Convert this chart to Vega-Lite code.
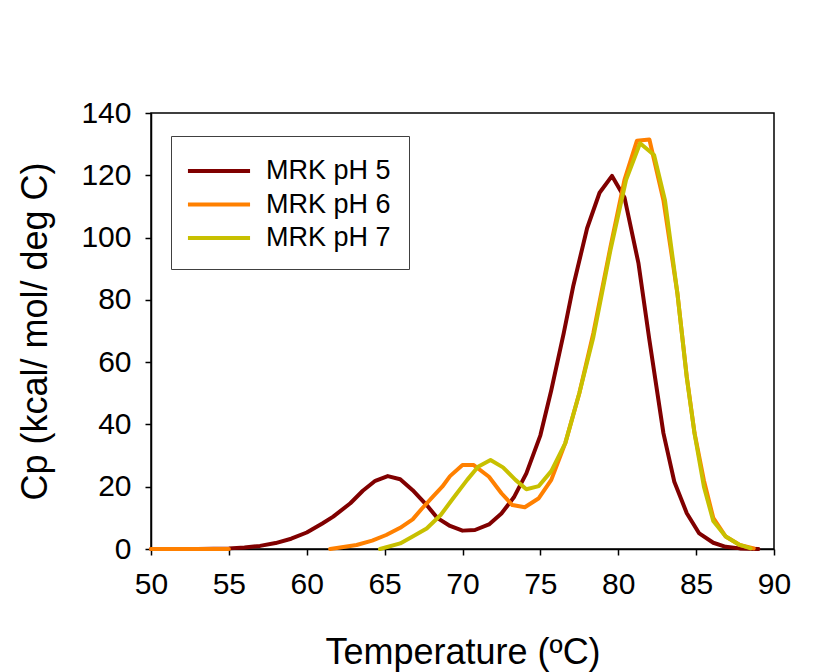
{
  "$schema": "https://vega.github.io/schema/vega-lite/v6.json",
  "width": 623,
  "height": 436,
  "autosize": "none",
  "padding": {"left": 151, "top": 113, "right": 49, "bottom": 123},
  "background": "white",
  "config": {
    "font": "Liberation Sans",
    "view": {"stroke": "black", "strokeWidth": 1.5},
    "axis": {
      "grid": false,
      "domainColor": "black",
      "domainWidth": 1.5,
      "tickColor": "black",
      "tickWidth": 1.5,
      "tickSize": 6,
      "labelColor": "black",
      "labelFontSize": 30,
      "labelPadding": 14,
      "labelFlush": false,
      "labelOverlap": false,
      "titleColor": "black",
      "titleFontSize": 36,
      "titleFontWeight": "normal"
    }
  },
  "data": {
    "values": [
      {"series": "MRK pH 5", "seg": "a", "T": 50, "Cp": 0},
      {"series": "MRK pH 5", "seg": "a", "T": 51, "Cp": 0},
      {"series": "MRK pH 5", "seg": "a", "T": 52, "Cp": 0},
      {"series": "MRK pH 5", "seg": "a", "T": 53, "Cp": 0},
      {"series": "MRK pH 5", "seg": "a", "T": 54, "Cp": 0.1},
      {"series": "MRK pH 5", "seg": "a", "T": 55, "Cp": 0.2},
      {"series": "MRK pH 5", "seg": "a", "T": 56, "Cp": 0.5},
      {"series": "MRK pH 5", "seg": "a", "T": 57, "Cp": 1.0},
      {"series": "MRK pH 5", "seg": "a", "T": 58, "Cp": 1.9},
      {"series": "MRK pH 5", "seg": "a", "T": 59, "Cp": 3.3},
      {"series": "MRK pH 5", "seg": "a", "T": 60, "Cp": 5.3},
      {"series": "MRK pH 5", "seg": "a", "T": 61, "Cp": 8.2},
      {"series": "MRK pH 5", "seg": "a", "T": 61.7, "Cp": 10.4},
      {"series": "MRK pH 5", "seg": "a", "T": 62.8, "Cp": 14.7},
      {"series": "MRK pH 5", "seg": "a", "T": 63.6, "Cp": 18.7},
      {"series": "MRK pH 5", "seg": "a", "T": 64.4, "Cp": 21.9},
      {"series": "MRK pH 5", "seg": "a", "T": 65.2, "Cp": 23.4},
      {"series": "MRK pH 5", "seg": "a", "T": 66.0, "Cp": 22.4},
      {"series": "MRK pH 5", "seg": "a", "T": 66.8, "Cp": 18.9},
      {"series": "MRK pH 5", "seg": "a", "T": 67.7, "Cp": 14.1},
      {"series": "MRK pH 5", "seg": "a", "T": 68.4, "Cp": 9.9},
      {"series": "MRK pH 5", "seg": "a", "T": 69.2, "Cp": 7.4},
      {"series": "MRK pH 5", "seg": "a", "T": 70.0, "Cp": 5.9},
      {"series": "MRK pH 5", "seg": "a", "T": 70.8, "Cp": 6.1},
      {"series": "MRK pH 5", "seg": "a", "T": 71.7, "Cp": 7.9},
      {"series": "MRK pH 5", "seg": "a", "T": 72.5, "Cp": 11.4},
      {"series": "MRK pH 5", "seg": "a", "T": 73.3, "Cp": 16.6},
      {"series": "MRK pH 5", "seg": "a", "T": 74.1, "Cp": 24.3},
      {"series": "MRK pH 5", "seg": "a", "T": 75.0, "Cp": 36.5},
      {"series": "MRK pH 5", "seg": "a", "T": 75.7, "Cp": 51},
      {"series": "MRK pH 5", "seg": "a", "T": 76.5, "Cp": 69.3},
      {"series": "MRK pH 5", "seg": "a", "T": 77.1, "Cp": 84.2},
      {"series": "MRK pH 5", "seg": "a", "T": 78.0, "Cp": 103},
      {"series": "MRK pH 5", "seg": "a", "T": 78.8, "Cp": 114.4},
      {"series": "MRK pH 5", "seg": "a", "T": 79.6, "Cp": 119.8},
      {"series": "MRK pH 5", "seg": "a", "T": 80.4, "Cp": 112.9},
      {"series": "MRK pH 5", "seg": "a", "T": 81.3, "Cp": 91.7},
      {"series": "MRK pH 5", "seg": "a", "T": 82.0, "Cp": 67.1},
      {"series": "MRK pH 5", "seg": "a", "T": 82.9, "Cp": 37.2},
      {"series": "MRK pH 5", "seg": "a", "T": 83.6, "Cp": 21.6},
      {"series": "MRK pH 5", "seg": "a", "T": 84.4, "Cp": 11.5},
      {"series": "MRK pH 5", "seg": "a", "T": 85.2, "Cp": 5.0},
      {"series": "MRK pH 5", "seg": "a", "T": 86.1, "Cp": 2.0},
      {"series": "MRK pH 5", "seg": "a", "T": 86.9, "Cp": 0.7},
      {"series": "MRK pH 5", "seg": "a", "T": 87.8, "Cp": 0.2},
      {"series": "MRK pH 5", "seg": "a", "T": 89.0, "Cp": 0},

      {"series": "MRK pH 6", "seg": "a", "T": 50, "Cp": 0},
      {"series": "MRK pH 6", "seg": "a", "T": 55, "Cp": 0},
      {"series": "MRK pH 6", "seg": "b", "T": 61.5, "Cp": 0},
      {"series": "MRK pH 6", "seg": "b", "T": 63.2, "Cp": 1.3},
      {"series": "MRK pH 6", "seg": "b", "T": 64.2, "Cp": 2.7},
      {"series": "MRK pH 6", "seg": "b", "T": 65.1, "Cp": 4.5},
      {"series": "MRK pH 6", "seg": "b", "T": 66.0, "Cp": 6.8},
      {"series": "MRK pH 6", "seg": "b", "T": 66.8, "Cp": 9.5},
      {"series": "MRK pH 6", "seg": "b", "T": 67.4, "Cp": 13},
      {"series": "MRK pH 6", "seg": "b", "T": 68.1, "Cp": 16.8},
      {"series": "MRK pH 6", "seg": "b", "T": 68.7, "Cp": 20},
      {"series": "MRK pH 6", "seg": "b", "T": 69.2, "Cp": 23.4},
      {"series": "MRK pH 6", "seg": "b", "T": 70.0, "Cp": 27},
      {"series": "MRK pH 6", "seg": "b", "T": 70.7, "Cp": 27},
      {"series": "MRK pH 6", "seg": "b", "T": 71.7, "Cp": 23.2},
      {"series": "MRK pH 6", "seg": "b", "T": 72.5, "Cp": 17.9},
      {"series": "MRK pH 6", "seg": "b", "T": 73.2, "Cp": 14.1},
      {"series": "MRK pH 6", "seg": "b", "T": 74.0, "Cp": 13.4},
      {"series": "MRK pH 6", "seg": "b", "T": 74.9, "Cp": 16.3},
      {"series": "MRK pH 6", "seg": "b", "T": 75.7, "Cp": 22.2},
      {"series": "MRK pH 6", "seg": "b", "T": 76.6, "Cp": 34},
      {"series": "MRK pH 6", "seg": "b", "T": 77.5, "Cp": 50},
      {"series": "MRK pH 6", "seg": "b", "T": 78.4, "Cp": 69.3},
      {"series": "MRK pH 6", "seg": "b", "T": 79.5, "Cp": 97},
      {"series": "MRK pH 6", "seg": "b", "T": 80.4, "Cp": 118.5},
      {"series": "MRK pH 6", "seg": "b", "T": 81.2, "Cp": 131.1},
      {"series": "MRK pH 6", "seg": "b", "T": 82.0, "Cp": 131.5},
      {"series": "MRK pH 6", "seg": "b", "T": 82.9, "Cp": 112},
      {"series": "MRK pH 6", "seg": "b", "T": 83.8, "Cp": 82},
      {"series": "MRK pH 6", "seg": "b", "T": 84.4, "Cp": 55.3},
      {"series": "MRK pH 6", "seg": "b", "T": 84.9, "Cp": 37.2},
      {"series": "MRK pH 6", "seg": "b", "T": 85.5, "Cp": 22},
      {"series": "MRK pH 6", "seg": "b", "T": 86.1, "Cp": 10},
      {"series": "MRK pH 6", "seg": "b", "T": 86.9, "Cp": 4},
      {"series": "MRK pH 6", "seg": "b", "T": 87.8, "Cp": 1.3},
      {"series": "MRK pH 6", "seg": "b", "T": 88.7, "Cp": 0.2},

      {"series": "MRK pH 7", "seg": "a", "T": 64.7, "Cp": 0},
      {"series": "MRK pH 7", "seg": "a", "T": 66.0, "Cp": 1.8},
      {"series": "MRK pH 7", "seg": "a", "T": 66.8, "Cp": 4},
      {"series": "MRK pH 7", "seg": "a", "T": 67.7, "Cp": 6.6},
      {"series": "MRK pH 7", "seg": "a", "T": 68.6, "Cp": 10.9},
      {"series": "MRK pH 7", "seg": "a", "T": 69.4, "Cp": 16.3},
      {"series": "MRK pH 7", "seg": "a", "T": 70.3, "Cp": 22.2},
      {"series": "MRK pH 7", "seg": "a", "T": 71.0, "Cp": 26.4},
      {"series": "MRK pH 7", "seg": "a", "T": 71.8, "Cp": 28.6},
      {"series": "MRK pH 7", "seg": "a", "T": 72.6, "Cp": 26.2},
      {"series": "MRK pH 7", "seg": "a", "T": 73.4, "Cp": 22.2},
      {"series": "MRK pH 7", "seg": "a", "T": 74.1, "Cp": 19.2},
      {"series": "MRK pH 7", "seg": "a", "T": 74.9, "Cp": 20.2},
      {"series": "MRK pH 7", "seg": "a", "T": 75.7, "Cp": 25},
      {"series": "MRK pH 7", "seg": "a", "T": 76.6, "Cp": 34},
      {"series": "MRK pH 7", "seg": "a", "T": 77.5, "Cp": 50},
      {"series": "MRK pH 7", "seg": "a", "T": 78.4, "Cp": 68},
      {"series": "MRK pH 7", "seg": "a", "T": 79.5, "Cp": 96},
      {"series": "MRK pH 7", "seg": "a", "T": 80.5, "Cp": 118.5},
      {"series": "MRK pH 7", "seg": "a", "T": 81.4, "Cp": 130.3},
      {"series": "MRK pH 7", "seg": "a", "T": 82.3, "Cp": 126.5},
      {"series": "MRK pH 7", "seg": "a", "T": 83.0, "Cp": 112},
      {"series": "MRK pH 7", "seg": "a", "T": 83.8, "Cp": 82},
      {"series": "MRK pH 7", "seg": "a", "T": 84.4, "Cp": 55},
      {"series": "MRK pH 7", "seg": "a", "T": 84.9, "Cp": 37},
      {"series": "MRK pH 7", "seg": "a", "T": 85.5, "Cp": 20},
      {"series": "MRK pH 7", "seg": "a", "T": 86.1, "Cp": 9},
      {"series": "MRK pH 7", "seg": "a", "T": 86.9, "Cp": 4},
      {"series": "MRK pH 7", "seg": "a", "T": 87.8, "Cp": 1.3},
      {"series": "MRK pH 7", "seg": "a", "T": 88.5, "Cp": 0.2}
    ]
  },
  "mark": {"type": "line", "strokeWidth": 4, "strokeCap": "round", "strokeJoin": "round"},
  "encoding": {
    "x": {
      "field": "T",
      "type": "quantitative",
      "scale": {"domain": [50, 90], "nice": false, "zero": false},
      "axis": {
        "title": "Temperature (ºC)",
        "values": [50, 55, 60, 65, 70, 75, 80, 85, 90],
        "titleX": 311.5,
        "titleY": 103,
        "titleBaseline": "middle",
        "titleAlign": "center"
      }
    },
    "y": {
      "field": "Cp",
      "type": "quantitative",
      "scale": {"domain": [0, 140], "nice": false},
      "axis": {
        "title": "Cp (kcal/ mol/ deg C)",
        "values": [0, 20, 40, 60, 80, 100, 120, 140],
        "titleX": -116,
        "titleY": 218,
        "titleBaseline": "middle",
        "titleAlign": "center",
        "titleAngle": -90
      }
    },
    "color": {
      "field": "series",
      "type": "nominal",
      "scale": {
        "domain": ["MRK pH 5", "MRK pH 6", "MRK pH 7"],
        "range": ["#800000", "#FF8000", "#C8C000"]
      },
      "legend": {
        "title": null,
        "orient": "none",
        "legendX": 20,
        "legendY": 23,
        "padding": 18,
        "fillColor": "white",
        "strokeColor": "#404040",
        "symbolType": "M-2.07,0H2.07",
        "symbolStrokeWidth": 4,
        "symbolSize": 900,
        "symbolOffset": 13,
        "labelFontSize": 27,
        "labelColor": "black",
        "labelOffset": 30,
        "rowPadding": 3.5
      }
    },
    "detail": {"field": "seg", "type": "nominal"}
  }
}
